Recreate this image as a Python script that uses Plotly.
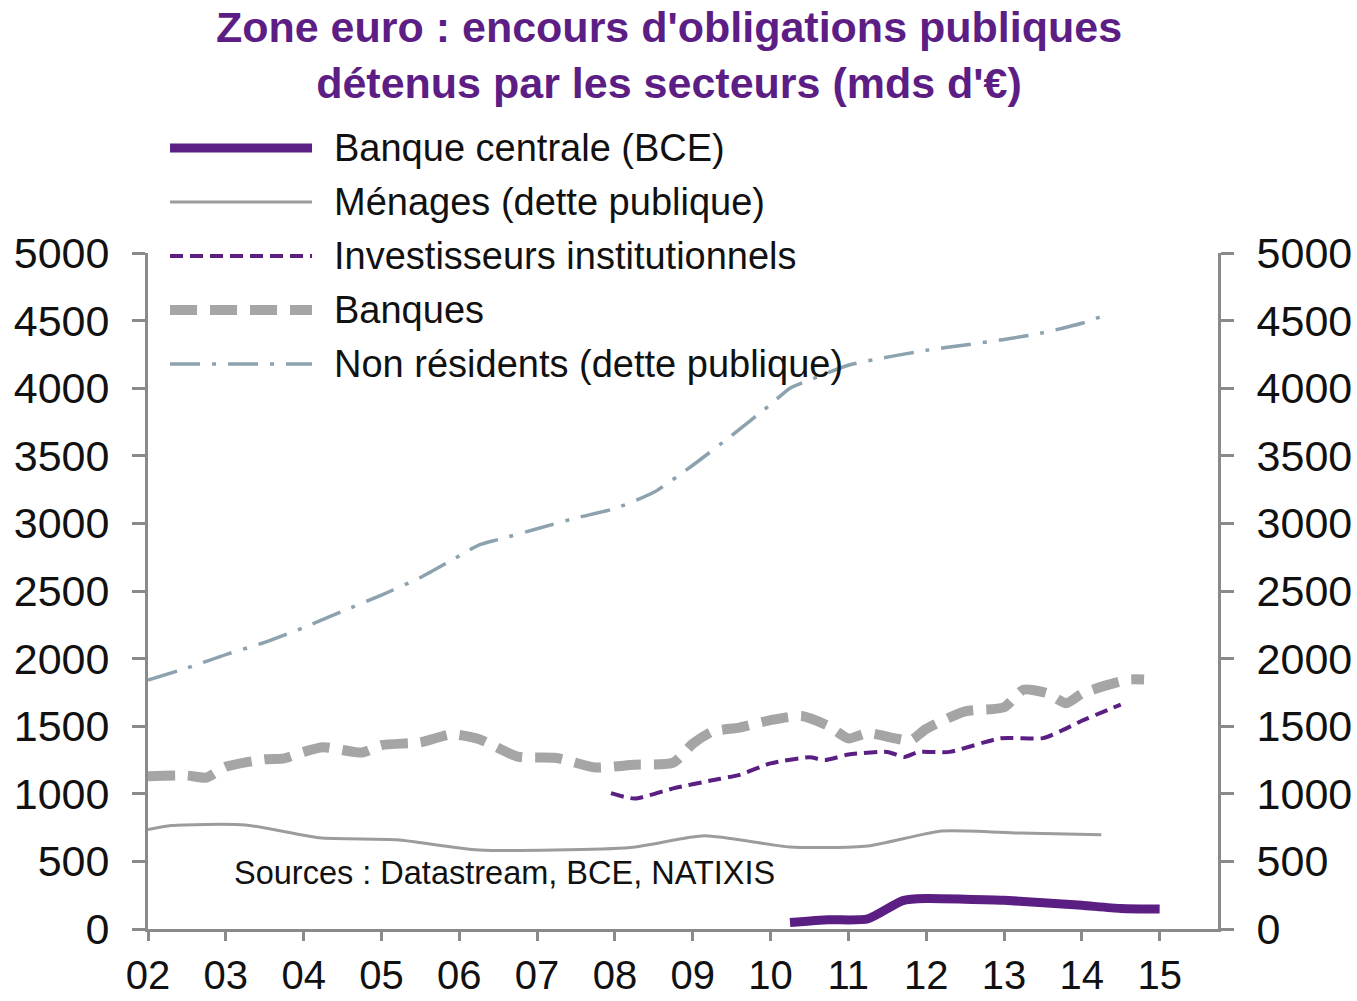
import plotly.graph_objects as go

# ---- Data (mds d'EUR), x in decimal years ----
bce_x = [2010.25, 2010.75, 2011.25, 2011.7, 2012.0, 2012.5, 2013.0, 2013.5, 2014.0, 2014.5, 2015.0]
bce_y = [48, 68, 75, 210, 225, 220, 212, 195, 175, 152, 148]

menages_x = [2002.0, 2002.3, 2003.25, 2004.2, 2005.2, 2006.25, 2008.2, 2009.15, 2010.25,
             2011.25, 2012.2, 2013.2, 2014.25]
menages_y = [735, 765, 770, 675, 660, 585, 603, 690, 606, 614, 725, 710, 698]

invest_x = [2007.95, 2008.25, 2008.75, 2009.25, 2009.6, 2010.0, 2010.5, 2010.7, 2011.0, 2011.5,
            2011.72, 2011.9, 2012.3, 2012.95, 2013.5, 2013.75, 2014.0, 2014.5]
invest_y = [1005, 965, 1040, 1100, 1140, 1225, 1270, 1250, 1290, 1310,
            1272, 1310, 1310, 1410, 1412, 1470, 1540, 1660]

banques_x = [2002.0, 2002.5, 2002.75, 2003.0, 2003.5, 2003.75, 2004.0, 2004.25, 2004.75, 2005.0,
             2005.5, 2005.9, 2006.25, 2006.75, 2007.25, 2007.75, 2008.25, 2008.75, 2009.0, 2009.25,
             2009.6, 2010.0, 2010.4, 2010.75, 2011.0, 2011.25, 2011.6, 2011.8, 2012.0, 2012.5,
             2013.0, 2013.25, 2013.55, 2013.8, 2014.0, 2014.3, 2014.6, 2014.8]
banques_y = [1130, 1135, 1120, 1200, 1255, 1262, 1310, 1345, 1305, 1360,
             1380, 1440, 1405, 1275, 1265, 1195, 1215, 1230, 1370, 1460,
             1490, 1545, 1575, 1500, 1410, 1450, 1410, 1395, 1480, 1610,
             1640, 1770, 1745, 1670, 1740, 1800, 1845, 1845]

nonres_x = [2002.0, 2002.5, 2003.0, 2003.5, 2004.0, 2004.5, 2005.0, 2005.5, 2006.0, 2006.25,
            2006.5, 2007.0, 2007.5, 2008.0, 2008.5, 2009.0, 2009.5, 2010.0, 2010.25, 2010.5,
            2011.0, 2011.5, 2012.0, 2012.5, 2013.0, 2013.5, 2014.0, 2014.25]
nonres_y = [1842, 1930, 2030, 2120, 2230, 2350, 2470, 2600, 2760, 2840,
            2880, 2960, 3040, 3110, 3230, 3430, 3650, 3880, 4000, 4060,
            4170, 4230, 4280, 4320, 4360, 4410, 4480, 4530]

year_ticks = list(range(2002, 2016))
year_labels = ["02", "03", "04", "05", "06", "07", "08", "09", "10", "11", "12", "13", "14", "15"]

series_names = ["Banque centrale (BCE)", "Ménages (dette publique)",
                "Investisseurs institutionnels", "Banques", "Non résidents (dette publique)"]

# ---- Styles ----
PURPLE = "#5B1E83"
GREY_THIN = "#9C9C9C"
GREY_THICK = "#A5A5A5"
BLUEGREY = "#8CA2AF"
AXIS = "#8A8A8A"
FONT = "Liberation Sans, Arial, sans-serif"

styles = [
    dict(color=PURPLE, width=9, dash="solid"),
    dict(color=GREY_THIN, width=3, dash="solid"),
    dict(color=PURPLE, width=4, dash="13px,7px"),
    dict(color=GREY_THICK, width=10, dash="27px,13px"),
    dict(color=BLUEGREY, width=3.5, dash="30px,12px,4px,12px"),
]

data = [(bce_x, bce_y), (menages_x, menages_y), (invest_x, invest_y),
        (banques_x, banques_y), (nonres_x, nonres_y)]

fig = go.Figure()
# draw order: background lines first, central bank on top
for idx in [4, 3, 2, 1, 0]:
    xs, ys = data[idx]
    fig.add_trace(go.Scatter(x=xs, y=ys, mode="lines", name=series_names[idx],
                             line=dict(**styles[idx], shape="spline", smoothing=0.6),
                             showlegend=False, hoverinfo="x+y"))

# invisible trace so the right-hand axis is rendered
fig.add_trace(go.Scatter(x=bce_x, y=bce_y, yaxis="y2", mode="lines",
                         line=dict(width=0, color="rgba(0,0,0,0)"),
                         showlegend=False, hoverinfo="skip"))

# ---- Legend drawn as long swatches with text ----
L_X0, L_X1, T_X = 0.0206, 0.1533, 0.1720
rows_y = [1.1553, 1.0754, 0.9956, 0.9157, 0.8358]
for st, name, ry in zip(styles, series_names, rows_y):
    fig.add_shape(type="line", xref="paper", yref="paper", x0=L_X0, x1=L_X1, y0=ry, y1=ry,
                  line=dict(color=st["color"], width=st["width"], dash=st["dash"]))
    fig.add_annotation(xref="paper", yref="paper", x=T_X, y=ry, text=name, showarrow=False,
                       xanchor="left", yanchor="middle",
                       font=dict(family=FONT, size=38, color="#111111"))

fig.add_annotation(xref="paper", yref="paper", x=0.333, y=0.083,
                   text="Sources : Datastream, BCE, NATIXIS", showarrow=False,
                   xanchor="center", yanchor="middle",
                   font=dict(family=FONT, size=32.5, color="#111111"))

yaxis_common = dict(range=[0, 5000], tickmode="linear", tick0=0, dtick=500,
                    showgrid=False, zeroline=False, showline=True, linecolor=AXIS,
                    linewidth=3, ticks="outside", ticklen=13, tickwidth=2.5, tickcolor=AXIS,
                    tickfont=dict(family=FONT, size=43, color="#111111"),
                    ticklabelstandoff=14, fixedrange=True)

fig.update_layout(
    width=1357, height=1001,
    margin=dict(l=148, r=139, t=253, b=72, autoexpand=False),
    paper_bgcolor="white", plot_bgcolor="white",
    showlegend=False,
    title=dict(text="Zone euro : encours d'obligations publiques<br>détenus par les secteurs (mds d'€)",
               x=0.493, xref="container", xanchor="center",
               y=0.958, yref="container", yanchor="top",
               font=dict(family=FONT, size=43, color="#5C1E84", weight="bold")),
    xaxis=dict(range=[2002, 2015.75], tickmode="array", tickvals=year_ticks, ticktext=year_labels,
               showgrid=False, zeroline=False, showline=True, linecolor=AXIS, linewidth=3,
               ticks="outside", ticklen=9, tickwidth=2.5, tickcolor=AXIS,
               tickfont=dict(family=FONT, size=40, color="#111111"),
               ticklabelstandoff=0, fixedrange=True),
    yaxis=dict(side="left", **yaxis_common),
    yaxis2=dict(side="right", overlaying="y", **yaxis_common),
)

fig.write_html("out.html")
